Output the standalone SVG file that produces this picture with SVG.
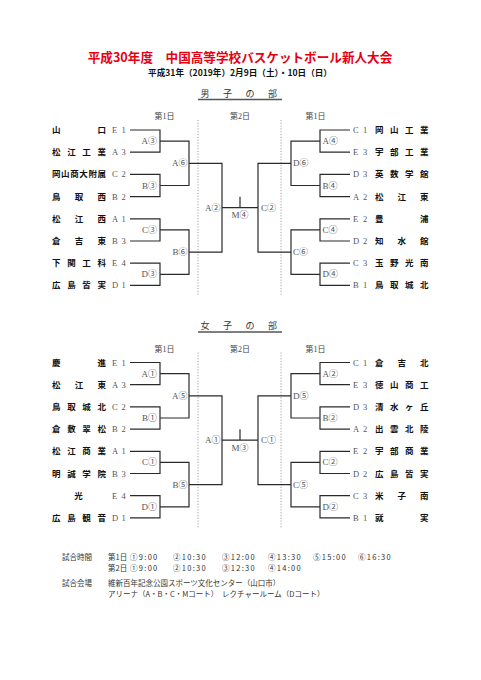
<svg xmlns="http://www.w3.org/2000/svg" width="481" height="680" viewBox="0 0 481 680">
<defs>
<style>
.ln{stroke:#2a2a2a;stroke-width:1.2;fill:none}
.dot{stroke:#8a8a8a;stroke-width:0.8;stroke-dasharray:1.2 1.6;fill:none}
.ul{stroke:#555;stroke-width:1.5}
.nm{font-family:"Noto Sans CJK JP",sans-serif;font-size:8.5px;font-weight:bold;fill:#111}
.sd{font-family:"Liberation Serif","Noto Sans CJK JP",serif;font-size:8.5px;fill:#555}
.lb{font-family:"Liberation Serif","Noto Sans CJK JP",serif;font-size:9px;fill:#555}
.hd{font-family:"Liberation Serif","Noto Sans CJK JP",serif;font-size:8px;fill:#444;text-anchor:middle}
.sec{font-family:"Noto Sans CJK JP",sans-serif;font-size:9px;fill:#333;text-anchor:middle}
.ft{font-family:"Noto Sans CJK JP",sans-serif;font-size:7.5px;fill:#333}
.tm{letter-spacing:1.3px}
.e{text-anchor:end}
.m{text-anchor:middle}
</style>
</defs>
<rect width="481" height="680" fill="#fff"/>
<g id="title">
<text x="240" y="62" text-anchor="middle" font-family="'Noto Sans CJK JP',sans-serif" font-size="12.6" font-weight="bold" fill="#e60012">平成30年度　中国高等学校バスケットボール新人大会</text>
<text x="240" y="75.5" text-anchor="middle" font-family="'Noto Sans CJK JP',sans-serif" font-size="8.6" font-weight="bold" fill="#111">平成31年（2019年）2月9日（土）・10日（日）</text>
</g>

<!-- MALE SECTION -->
<g id="male">
<g id="male-header">
<text class="sec" x="205 227.5 250 272.5" y="96.5">男子の部</text>
<line class="ul" x1="198" y1="99.5" x2="282" y2="99.5"/>
<text class="hd" x="164.5" y="119">第1日</text>
<text class="hd" x="240" y="119">第2日</text>
<text class="hd" x="315.5" y="119">第1日</text>
</g>
<g id="male-connectors">
<line class="dot" x1="198" y1="120" x2="198" y2="296"/>
<line class="dot" x1="281" y1="120" x2="281" y2="296"/>
<path class="ln" d="M130 130H160V152.2H130M130 174.4H160V196.6H130M130 218.8H160V241H130M130 263.2H160V285.4H130M160 141.1H189V185.5H160M160 229.9H189V274.3H160M189 163.3H222V252.1H189M222 207.7H258M240 207.7V196.7M350 130H320V152.2H350M350 174.4H320V196.6H350M350 218.8H320V241H350M350 263.2H320V285.4H350M320 141.1H291V185.5H320M320 229.9H291V274.3H320M291 163.3H258V252.1H291"/>
</g>
<g id="male-labels">
<text class="lb e" x="157" y="144.1">A③</text>
<text class="lb e" x="157" y="188.5">B③</text>
<text class="lb e" x="157" y="232.9">C③</text>
<text class="lb e" x="157" y="277.3">D③</text>
<text class="lb e" x="187.5" y="166.3">A⑥</text>
<text class="lb e" x="187.5" y="255.1">B⑥</text>
<text class="lb e" x="220.5" y="210.7">A②</text>
<text class="lb m" x="240" y="218">M④</text>
<text class="lb" x="261" y="210.7">C②</text>
<text class="lb" x="293" y="166.3">D⑥</text>
<text class="lb" x="293" y="255.1">C⑥</text>
<text class="lb" x="322.5" y="144.1">A④</text>
<text class="lb" x="322.5" y="188.5">B④</text>
<text class="lb" x="322.5" y="232.9">C④</text>
<text class="lb" x="322.5" y="277.3">D④</text>
</g>
<g id="m-L1"><text class="nm" x="52 97.5" y="133">山口</text><text class="sd" x="112 121.5" y="133">E1</text></g>
<g id="m-L2"><text class="nm" x="52 67.2 82.3 97.5" y="155.2">松江工業</text><text class="sd" x="112 121.5" y="155.2">A3</text></g>
<g id="m-L3"><text class="nm" x="52 61.1 70.2 79.3 88.4 97.5" y="177.4">岡山商大附属</text><text class="sd" x="112 121.5" y="177.4">C2</text></g>
<g id="m-L4"><text class="nm" x="52 74.8 97.5" y="199.6">鳥取西</text><text class="sd" x="112 121.5" y="199.6">B2</text></g>
<g id="m-L5"><text class="nm" x="52 74.8 97.5" y="221.8">松江西</text><text class="sd" x="112 121.5" y="221.8">A1</text></g>
<g id="m-L6"><text class="nm" x="52 74.8 97.5" y="244">倉吉東</text><text class="sd" x="112 121.5" y="244">B3</text></g>
<g id="m-L7"><text class="nm" x="52 67.2 82.3 97.5" y="266.2">下関工科</text><text class="sd" x="112 121.5" y="266.2">E4</text></g>
<g id="m-L8"><text class="nm" x="52 67.2 82.3 97.5" y="288.4">広島皆実</text><text class="sd" x="112 121.5" y="288.4">D1</text></g>
<g id="m-R1"><text class="sd" x="353 363" y="133">C1</text><text class="nm" x="375 390 405 420" y="133">岡山工業</text></g>
<g id="m-R2"><text class="sd" x="353 363" y="155.2">E3</text><text class="nm" x="375 390 405 420" y="155.2">宇部工業</text></g>
<g id="m-R3"><text class="sd" x="353 363" y="177.4">D3</text><text class="nm" x="375 390 405 420" y="177.4">英数学館</text></g>
<g id="m-R4"><text class="sd" x="353 363" y="199.6">A2</text><text class="nm" x="375 397.5 420" y="199.6">松江東</text></g>
<g id="m-R5"><text class="sd" x="353 363" y="221.8">E2</text><text class="nm" x="375 420" y="221.8">豊浦</text></g>
<g id="m-R6"><text class="sd" x="353 363" y="244">D2</text><text class="nm" x="375 397.5 420" y="244">知水館</text></g>
<g id="m-R7"><text class="sd" x="353 363" y="266.2">C3</text><text class="nm" x="375 390 405 420" y="266.2">玉野光南</text></g>
<g id="m-R8"><text class="sd" x="353 363" y="288.4">B1</text><text class="nm" x="375 390 405 420" y="288.4">鳥取城北</text></g>
</g>

<!-- FEMALE SECTION -->
<g id="female" transform="translate(0,232.5)">
<g id="female-header">
<text class="sec" x="205 227.5 250 272.5" y="96.5">女子の部</text>
<line class="ul" x1="198" y1="99.5" x2="282" y2="99.5"/>
<text class="hd" x="164.5" y="119">第1日</text>
<text class="hd" x="240" y="119">第2日</text>
<text class="hd" x="315.5" y="119">第1日</text>
</g>
<g id="female-connectors">
<line class="dot" x1="198" y1="120" x2="198" y2="296"/>
<line class="dot" x1="281" y1="120" x2="281" y2="296"/>
<path class="ln" d="M130 130H160V152.2H130M130 174.4H160V196.6H130M130 218.8H160V241H130M130 263.2H160V285.4H130M160 141.1H189V185.5H160M160 229.9H189V274.3H160M189 163.3H222V252.1H189M222 207.7H258M240 207.7V196.7M350 130H320V152.2H350M350 174.4H320V196.6H350M350 218.8H320V241H350M350 263.2H320V285.4H350M320 141.1H291V185.5H320M320 229.9H291V274.3H320M291 163.3H258V252.1H291"/>
</g>
<g id="female-labels">
<text class="lb e" x="157" y="144.1">A①</text>
<text class="lb e" x="157" y="188.5">B①</text>
<text class="lb e" x="157" y="232.9">C①</text>
<text class="lb e" x="157" y="277.3">D①</text>
<text class="lb e" x="187.5" y="166.3">A⑤</text>
<text class="lb e" x="187.5" y="255.1">B⑤</text>
<text class="lb e" x="220.5" y="210.7">A①</text>
<text class="lb m" x="240" y="218">M③</text>
<text class="lb" x="261" y="210.7">C①</text>
<text class="lb" x="293" y="166.3">D⑤</text>
<text class="lb" x="293" y="255.1">C⑤</text>
<text class="lb" x="322.5" y="144.1">A②</text>
<text class="lb" x="322.5" y="188.5">B②</text>
<text class="lb" x="322.5" y="232.9">C②</text>
<text class="lb" x="322.5" y="277.3">D②</text>
</g>
<g id="f-L1"><text class="nm" x="52 97.5" y="133">慶進</text><text class="sd" x="112 121.5" y="133">E1</text></g>
<g id="f-L2"><text class="nm" x="52 74.8 97.5" y="155.2">松江東</text><text class="sd" x="112 121.5" y="155.2">A3</text></g>
<g id="f-L3"><text class="nm" x="52 67.2 82.3 97.5" y="177.4">鳥取城北</text><text class="sd" x="112 121.5" y="177.4">C2</text></g>
<g id="f-L4"><text class="nm" x="52 67.2 82.3 97.5" y="199.6">倉敷翠松</text><text class="sd" x="112 121.5" y="199.6">B2</text></g>
<g id="f-L5"><text class="nm" x="52 67.2 82.3 97.5" y="221.8">松江商業</text><text class="sd" x="112 121.5" y="221.8">A1</text></g>
<g id="f-L6"><text class="nm" x="52 67.2 82.3 97.5" y="244">明誠学院</text><text class="sd" x="112 121.5" y="244">B3</text></g>
<g id="f-L7"><text class="nm m" x="78.5" y="266.2">光</text><text class="sd" x="112 121.5" y="266.2">E4</text></g>
<g id="f-L8"><text class="nm" x="52 67.2 82.3 97.5" y="288.4">広島観音</text><text class="sd" x="112 121.5" y="288.4">D1</text></g>
<g id="f-R1"><text class="sd" x="353 363" y="133">C1</text><text class="nm" x="375 397.5 420" y="133">倉吉北</text></g>
<g id="f-R2"><text class="sd" x="353 363" y="155.2">E3</text><text class="nm" x="375 390 405 420" y="155.2">徳山商工</text></g>
<g id="f-R3"><text class="sd" x="353 363" y="177.4">D3</text><text class="nm" x="375 390 405 420" y="177.4">清水ヶ丘</text></g>
<g id="f-R4"><text class="sd" x="353 363" y="199.6">A2</text><text class="nm" x="375 390 405 420" y="199.6">出雲北陵</text></g>
<g id="f-R5"><text class="sd" x="353 363" y="221.8">E2</text><text class="nm" x="375 390 405 420" y="221.8">宇部商業</text></g>
<g id="f-R6"><text class="sd" x="353 363" y="244">D2</text><text class="nm" x="375 390 405 420" y="244">広島皆実</text></g>
<g id="f-R7"><text class="sd" x="353 363" y="266.2">C3</text><text class="nm" x="375 397.5 420" y="266.2">米子南</text></g>
<g id="f-R8"><text class="sd" x="353 363" y="288.4">B1</text><text class="nm" x="375 420" y="288.4">就実</text></g>
</g>

<!-- FOOTER -->
<g id="footer">
<text class="ft" x="62" y="560">試合時間</text>
<text class="ft" x="108" y="560">第1日</text>
<text class="ft tm" x="130" y="560">①9:00</text>
<text class="ft tm" x="173" y="560">②10:30</text>
<text class="ft tm" x="222" y="560">③12:00</text>
<text class="ft tm" x="268" y="560">④13:30</text>
<text class="ft tm" x="313" y="560">⑤15:00</text>
<text class="ft tm" x="358" y="560">⑥16:30</text>
<text class="ft" x="108" y="571">第2日</text>
<text class="ft tm" x="130" y="571">①9:00</text>
<text class="ft tm" x="173" y="571">②10:30</text>
<text class="ft tm" x="222" y="571">③12:30</text>
<text class="ft tm" x="268" y="571">④14:00</text>
<text class="ft" x="62" y="586">試合会場</text>
<text class="ft" x="108" y="586">維新百年記念公園スポーツ文化センター（山口市）</text>
<text class="ft" x="108" y="597">アリーナ（A・B・C・Mコート）　レクチャールーム（Dコート）</text>
</g>
</svg>
